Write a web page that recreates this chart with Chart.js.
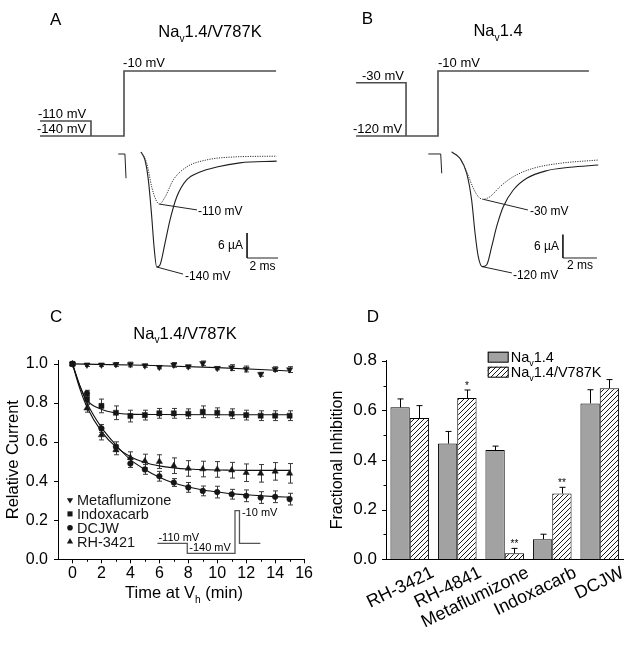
<!DOCTYPE html>
<html>
<head>
<meta charset="utf-8">
<script src="https://cdn.jsdelivr.net/npm/chart.js@4.4.1/dist/chart.umd.min.js"></script>
<style>
  html, body { margin: 0; padding: 0; background: #fff; }
  #wrap { position: relative; width: 637px; height: 645px; overflow: hidden; }
  canvas { position: absolute; }
</style>
</head>
<body>
<div id="wrap">
  <canvas id="cA" width="318" height="290" style="left:0;top:0;width:318px;height:290px"></canvas>
  <canvas id="cB" width="319" height="290" style="left:318px;top:0;width:319px;height:290px"></canvas>
  <canvas id="cC" width="318" height="355" style="left:0;top:290px;width:318px;height:355px"></canvas>
  <canvas id="cD" width="319" height="355" style="left:318px;top:290px;width:319px;height:355px"></canvas>
</div>
<script>
// ---------- data, panel A (Nav1.4/V787K traces) : t in ms, I in µA, V in mV ----------
const protoA_preT = [-5.42, -2.13, -2.13];
const protoA_preV = [-110, -110, -140];
const protoA_mainT = [-5.42, 0, 0, 9.81];
const protoA_mainV = [-140, -140, -10, -10];
const curA140_t = [1.10, 1.35, 1.57, 1.79, 1.94, 2.11, 2.32, 2.65, 2.97, 3.40, 4.04, 4.90, 5.98, 7.48, 9.85];
const curA140_i = [0, -1.9, -6.7, -15.6, -22.8, -27.6, -27.1, -21.8, -16.3, -10.8, -6.7, -4.8, -3.6, -2.6, -2.2];
const curA110_t = [1.10, 1.46, 1.79, 2.06, 2.28, 2.65, 3.18, 4.04, 5.33, 7.03, 9.85];
const curA110_i = [0, -2.6, -8.4, -11.5, -12.5, -10.8, -6.7, -3.6, -1.9, -1.2, -1.0];
const artA_t = [-0.37, 0.06, 0.13];
const artA_i = [-0.48, -0.48, -6.3];
const leadA110_t = [2.28, 4.71], leadA110_i = [-12.5, -13.9];
const leadA140_t = [2.11, 3.81], leadA140_i = [-27.6, -29.3];
const sbarA = { t0: 7.94, i0: -25.44, dt: 2, di: 6 };

// ---------- data, panel B (Nav1.4 traces) ----------
const protoB_preT = [-4.82, -1.88, -1.88];
const protoB_preV = [-30, -30, -120];
const protoB_mainT = [-4.82, 0, 0, 8.88];
const protoB_mainV = [-120, -120, -10, -10];
const curB120_t = [0.81, 1.29, 1.69, 1.98, 2.18, 2.37, 2.61, 2.86, 3.16, 3.45, 3.84, 4.43, 5.22, 6.39, 7.76, 9.43];
const curB120_i = [0, -1.62, -5.48, -12.34, -20.83, -26.92, -29.49, -29.06, -24.35, -19.21, -14.07, -9.77, -6.76, -4.81, -3.93, -3.34];
const curB30_t = [0.81, 1.29, 1.69, 2.08, 2.37, 2.66, 3.06, 3.65, 4.43, 5.61, 7.18, 9.43];
const curB30_i = [0, -1.62, -5.07, -9.33, -11.49, -12.16, -11.49, -8.92, -6.35, -4.19, -2.91, -2.06];
const artB_t = [-0.57, 0.16, 0.22];
const artB_i = [-0.51, -0.51, -5.48];
const leadB30_t = [2.66, 5.29], leadB30_i = [-12.16, -14.91];
const leadB120_t = [2.61, 4.35], leadB120_i = [-29.49, -31.11];
const sbarB = { t0: 7.35, i0: -27.26, dt: 2, di: 6 };

// ---------- data, panel C (relative current vs time at Vh, min) ----------
const timeMin = [0, 1, 2, 3, 4, 5, 6, 7, 8, 9, 10, 11, 12, 13, 14, 15];
const metaY = [1.0, 0.995, 0.995, 0.997, 0.997, 0.991, 0.983, 0.995, 0.986, 1.003, 0.978, 0.981, 0.974, 0.947, 0.973, 0.971];
const metaErr = [0, 0.008, 0.008, 0.01, 0.012, 0.008, 0.008, 0.012, 0.008, 0.012, 0.008, 0.015, 0.015, 0.01, 0.012, 0.015];
const indoxY = [1.0, 0.819, 0.785, 0.75, 0.733, 0.738, 0.747, 0.747, 0.745, 0.755, 0.75, 0.745, 0.738, 0.735, 0.735, 0.735];
const indoxErr = [0, 0.02, 0.035, 0.035, 0.03, 0.025, 0.025, 0.025, 0.025, 0.03, 0.025, 0.025, 0.025, 0.025, 0.025, 0.025];
const dcjwY = [1.0, 0.85, 0.67, 0.576, 0.49, 0.46, 0.425, 0.393, 0.368, 0.35, 0.344, 0.333, 0.325, 0.316, 0.32, 0.308];
const dcjwErr = [0, 0.015, 0.02, 0.025, 0.02, 0.025, 0.025, 0.02, 0.025, 0.025, 0.03, 0.025, 0.03, 0.03, 0.03, 0.03];
const rhY = [1.0, 0.773, 0.636, 0.56, 0.52, 0.503, 0.5, 0.479, 0.465, 0.462, 0.46, 0.456, 0.443, 0.44, 0.45, 0.44];
const rhErr = [0, 0.02, 0.025, 0.025, 0.03, 0.035, 0.035, 0.04, 0.04, 0.04, 0.04, 0.04, 0.045, 0.045, 0.045, 0.05];
// fitted curves
const metaFitT = [0, 5, 10, 15];
const metaFitY = [1.0, 0.993, 0.981, 0.964];
const indoxFitT = [0, 0.5, 1, 2, 3, 4, 6, 10, 15];
const indoxFitY = [1.0, 0.89, 0.815, 0.768, 0.749, 0.743, 0.741, 0.74, 0.74];
const curveFitT = [0, 0.5, 1, 2, 3, 4, 5, 6, 7, 8, 9, 10, 11, 12, 13, 14, 15];
const dcjwFitY = [1.0, 0.89, 0.80, 0.675, 0.585, 0.51, 0.46, 0.42, 0.39, 0.37, 0.355, 0.345, 0.336, 0.33, 0.325, 0.321, 0.318];
const rhFitY = [1.0, 0.875, 0.78, 0.655, 0.575, 0.525, 0.495, 0.478, 0.468, 0.462, 0.459, 0.457, 0.456, 0.455, 0.455, 0.455, 0.455];
// inset protocol (schematic time units, mV)
const insetT = [0, 6, 6, 15.6, 15.6, 16.5, 16.5, 20.7];
const insetV = [-110, -110, -140, -140, -10, -10, -110, -110];

// ---------- data, panel D (fractional inhibition) ----------
const drugs = ['RH-3421', 'RH-4841', 'Metaflumizone', 'Indoxacarb', 'DCJW'];
const inhibWT = [0.612, 0.466, 0.44, 0.081, 0.628];
const errWT = [0.034, 0.049, 0.016, 0.02, 0.055];
const inhibMut = [0.569, 0.65, 0.024, 0.265, 0.689];
const errMut = [0.05, 0.032, 0.02, 0.025, 0.035];
const sigMut = ['', '*', '**', '**', ''];

// ---------- helpers ----------
const FONT = "'Liberation Sans', Arial, Helvetica, sans-serif";
Chart.defaults.font.family = FONT;
Chart.defaults.color = '#000';
const NAV = [['Na', 0], ['v', 1], ['1.4', 0]];
const NAVK = [['Na', 0], ['v', 1], ['1.4/V787K', 0]];

function pts(xs, ys) { return xs.map((x, k) => ({ x: x, y: ys[k] })); }

function barPts(b) {
  return [{ x: b.t0, y: b.i0 + b.di }, { x: b.t0, y: b.i0 }, { x: b.t0 + b.dt, y: b.i0 }];
}

function richText(ctx, parts, x, y, size, align, baseline) {
  let w = 0;
  parts.forEach(p => { ctx.font = (p[1] ? size * 0.62 : size) + 'px ' + FONT; w += ctx.measureText(p[0]).width; });
  let cx = align === 'center' ? x - w / 2 : (align === 'right' ? x - w : x);
  ctx.textAlign = 'left';
  ctx.textBaseline = baseline || 'alphabetic';
  parts.forEach(p => {
    const s = p[1] ? size * 0.62 : size;
    ctx.font = s + 'px ' + FONT;
    ctx.fillText(p[0], cx, y + (p[1] ? size * 0.28 : 0));
    cx += ctx.measureText(p[0]).width;
  });
}

// text notes, placed in pixels (px/py) or in data units of the given axes
function makeNotes(items) {
  return {
    id: 'notes',
    afterDraw(chart) {
      const ctx = chart.ctx;
      ctx.save();
      ctx.fillStyle = '#000';
      items.forEach(n => {
        let x = n.px, y = n.py;
        if (x === undefined) x = chart.scales[n.xAxis || 'x'].getPixelForValue(n.x);
        if (y === undefined) y = chart.scales[n.yAxis || 'y'].getPixelForValue(n.y);
        richText(ctx, n.parts || [[n.text, 0]], x + (n.dx || 0), y + (n.dy || 0), n.size, n.align, n.baseline);
      });
      ctx.restore();
    }
  };
}

// outward major/minor tick marks (minor = tick with empty label)
function makeTicks(ids) {
  return {
    id: 'tickMarks',
    afterDraw(chart) {
      const ctx = chart.ctx, area = chart.chartArea;
      ctx.save();
      ctx.strokeStyle = '#000';
      ctx.lineWidth = 1;
      ids.forEach(id => {
        const s = chart.scales[id];
        s.ticks.forEach(t => {
          const len = t.label === '' ? 2.5 : 4;
          const p = Math.round(s.getPixelForValue(t.value)) + 0.5;
          ctx.beginPath();
          if (s.isHorizontal()) {
            if (p < area.left + 1) return;
            ctx.moveTo(p, area.bottom); ctx.lineTo(p, area.bottom + len);
          } else {
            ctx.moveTo(area.left - len, p); ctx.lineTo(area.left, p);
          }
          ctx.stroke();
        });
      });
      ctx.restore();
    }
  };
}

function drawMarker(ctx, style, x, y, r) {
  ctx.beginPath();
  if (style === 'circle') {
    ctx.arc(x, y, r, 0, Math.PI * 2);
  } else if (style === 'rect') {
    const s = r * Math.SQRT1_2;
    ctx.rect(x - s, y - s, 2 * s, 2 * s);
  } else {
    const d = style === 'down' ? -1 : 1;
    ctx.moveTo(x, y - d * r);
    ctx.lineTo(x + r * 0.866, y + d * r * 0.5);
    ctx.lineTo(x - r * 0.866, y + d * r * 0.5);
    ctx.closePath();
  }
  ctx.fill();
}

function traceSet(data, yAxis, opts) {
  return Object.assign({
    data: data, yAxisID: yAxis, showLine: true, pointRadius: 0,
    borderColor: '#1e1e1e', borderWidth: 1.1, fill: false
  }, opts || {});
}

function traceChart(id, sc, sets, notes) {
  return new Chart(document.getElementById(id), {
    type: 'scatter',
    data: { datasets: sets },
    options: {
      responsive: false,
      animation: false,
      layout: { padding: 0 },
      plugins: { legend: { display: false }, tooltip: { enabled: false } },
      scales: {
        x: { type: 'linear', display: false, min: sc.t[0], max: sc.t[1] },
        y: { type: 'linear', display: false },
        yV: { type: 'linear', display: false, min: sc.v[0], max: sc.v[1] },
        yI: { type: 'linear', display: false, min: sc.i[0], max: sc.i[1] }
      }
    },
    plugins: [makeNotes(notes)]
  });
}

const protoStyle = { borderColor: '#4d4d4d', borderWidth: 1.6 };
const dotStyle = { borderColor: '#333', borderWidth: 1, borderDash: [1.2, 1.2] };
const thinStyle = { borderColor: '#222', borderWidth: 1 };
const axisGrid = { display: false, drawTicks: false };
const axisBorder = { display: true, color: '#000', width: 1 };

// ---------- panel A ----------
traceChart('cA', { t: [-8, 12.516], v: [-448, 132], i: [-33.12, 36.48] }, [
  traceSet(pts(protoA_preT, protoA_preV), 'yV', protoStyle),
  traceSet(pts(protoA_mainT, protoA_mainV), 'yV', protoStyle),
  traceSet(pts(artA_t, artA_i), 'yI', thinStyle),
  traceSet(pts(curA110_t, curA110_i), 'yI', Object.assign({ cubicInterpolationMode: 'monotone' }, dotStyle)),
  traceSet(pts(curA140_t, curA140_i), 'yI', { cubicInterpolationMode: 'monotone' }),
  traceSet(pts(leadA110_t, leadA110_i), 'yI', thinStyle),
  traceSet(pts(leadA140_t, leadA140_i), 'yI', thinStyle),
  traceSet(barPts(sbarA), 'yI', thinStyle)
], [
  { parts: [['A', 0]], px: 50, py: 25, size: 17 },
  { parts: NAVK, px: 210, py: 37, size: 16.5, align: 'center' },
  { text: '-10 mV', x: -0.06, y: -10, yAxis: 'yV', dy: -4, size: 13 },
  { text: '-110 mV', x: -5.55, y: -110, yAxis: 'yV', dy: -3, size: 13 },
  { text: '-140 mV', x: -5.61, y: -140, yAxis: 'yV', dy: -3, size: 13 },
  { text: '-110 mV', x: 4.77, y: -14.4, yAxis: 'yI', size: 12, baseline: 'middle' },
  { text: '-140 mV', x: 3.94, y: -30.0, yAxis: 'yI', size: 12, baseline: 'middle' },
  { text: '6 \u00b5A', x: sbarA.t0 - 0.26, y: sbarA.i0 + sbarA.di / 2, yAxis: 'yI', size: 12, align: 'right', baseline: 'middle' },
  { text: '2 ms', x: sbarA.t0 + sbarA.dt / 2, y: sbarA.i0 - 2.0, yAxis: 'yI', size: 12, align: 'center', baseline: 'middle' }
]);

// ---------- panel B ----------
traceChart('cB', { t: [-7.06, 11.71], v: [-380.6, 110.15], i: [-35.49, 39.09] }, [
  traceSet(pts(protoB_preT, protoB_preV), 'yV', protoStyle),
  traceSet(pts(protoB_mainT, protoB_mainV), 'yV', protoStyle),
  traceSet(pts(artB_t, artB_i), 'yI', thinStyle),
  traceSet(pts(curB30_t, curB30_i), 'yI', Object.assign({ cubicInterpolationMode: 'monotone' }, dotStyle)),
  traceSet(pts(curB120_t, curB120_i), 'yI', { cubicInterpolationMode: 'monotone' }),
  traceSet(pts(leadB30_t, leadB30_i), 'yI', thinStyle),
  traceSet(pts(leadB120_t, leadB120_i), 'yI', thinStyle),
  traceSet(barPts(sbarB), 'yI', thinStyle)
], [
  { parts: [['B', 0]], px: 43.7, py: 24, size: 17 },
  { parts: NAV, px: 180, py: 36, size: 16.5, align: 'center' },
  { text: '-10 mV', x: 0, y: -10, yAxis: 'yV', dy: -4, size: 13 },
  { text: '-30 mV', x: -4.47, y: -30, yAxis: 'yV', dy: -3, size: 13 },
  { text: '-120 mV', x: -5.0, y: -120, yAxis: 'yV', dy: -3, size: 13 },
  { text: '-30 mV', x: 5.41, y: -15.43, yAxis: 'yI', size: 12, baseline: 'middle' },
  { text: '-120 mV', x: 4.41, y: -31.9, yAxis: 'yI', size: 12, baseline: 'middle' },
  { text: '6 \u00b5A', x: sbarB.t0 - 0.23, y: sbarB.i0 + sbarB.di / 2, yAxis: 'yI', size: 12, align: 'right', baseline: 'middle' },
  { text: '2 ms', x: sbarB.t0 + sbarB.dt / 2, y: sbarB.i0 - 2.1, yAxis: 'yI', size: 12, align: 'center', baseline: 'middle' }
]);

// ---------- panel C ----------
const markerInk = '#161616';
const seriesC = [
  { label: 'Metaflumizone', y: metaY, err: metaErr, style: 'triangle', rot: 180, r: 3.6, key: 'down' },
  { label: 'Indoxacarb', y: indoxY, err: indoxErr, style: 'rect', rot: 0, r: 3.6, key: 'rect' },
  { label: 'DCJW', y: dcjwY, err: dcjwErr, style: 'circle', rot: 0, r: 2.8, key: 'circle' },
  { label: 'RH-3421', y: rhY, err: rhErr, style: 'triangle', rot: 0, r: 3.6, key: 'up' }
];
const fitsC = [pts(metaFitT, metaFitY), pts(indoxFitT, indoxFitY), pts(curveFitT, dcjwFitY), pts(curveFitT, rhFitY)];

const setsC = seriesC.map(s => ({
  label: s.label, data: pts(timeMin, s.y), errs: s.err, order: 0,
  pointStyle: s.style, rotation: s.rot, pointRadius: s.r,
  pointBackgroundColor: markerInk, pointBorderColor: markerInk, pointBorderWidth: 0.5
})).concat(fitsC.map(f => ({
  data: f, showLine: true, pointRadius: 0, order: 1, borderColor: '#111', borderWidth: 1.1,
  cubicInterpolationMode: 'monotone'
}))).concat([{
  data: pts(insetT, insetV), xAxisID: 'xP', yAxisID: 'yP', showLine: true, pointRadius: 0, order: 2,
  borderColor: '#555', borderWidth: 1.3
}]);

const errBarsC = {
  id: 'errBarsC',
  beforeDatasetsDraw(chart) {
    const ctx = chart.ctx, xs = chart.scales.x, ys = chart.scales.y;
    ctx.save();
    ctx.strokeStyle = '#3a3a3a';
    ctx.lineWidth = 1;
    chart.data.datasets.forEach(ds => {
      if (!ds.errs) return;
      ds.data.forEach((p, k) => {
        const e = ds.errs[k];
        if (!e) return;
        const x = Math.round(xs.getPixelForValue(p.x)) + 0.5;
        const y1 = ys.getPixelForValue(p.y + e), y2 = ys.getPixelForValue(p.y - e);
        ctx.beginPath();
        ctx.moveTo(x, y1); ctx.lineTo(x, y2);
        ctx.moveTo(x - 2.5, y1); ctx.lineTo(x + 2.5, y1);
        ctx.moveTo(x - 2.5, y2); ctx.lineTo(x + 2.5, y2);
        ctx.stroke();
      });
    });
    ctx.restore();
  }
};

const legendC = {
  id: 'legendC',
  afterDraw(chart) {
    const ctx = chart.ctx;
    ctx.save();
    ctx.fillStyle = markerInk;
    seriesC.forEach((s, k) => {
      const base = 215 + 13.9 * k;
      drawMarker(ctx, s.key, 70, base - 5, s.r);
      richText(ctx, [[s.label, 0]], 77, base, 14.5, 'left');
    });
    ctx.restore();
  }
};

new Chart(document.getElementById('cC'), {
  type: 'scatter',
  data: { datasets: setsC },
  options: {
    responsive: false,
    animation: false,
    layout: { padding: { top: 70, right: 12.5, left: 0, bottom: 0 } },
    plugins: { legend: { display: false }, tooltip: { enabled: false } },
    scales: {
      x: {
        type: 'linear', min: -1, max: 16,
        grid: axisGrid, border: axisBorder,
        ticks: { stepSize: 1, autoSkip: false, maxRotation: 0, padding: 5, font: { size: 16 },
          callback: v => (Math.round(v) % 2 === 0 ? String(Math.round(v)) : '') },
        afterFit: s => { s.height = 85.7; }
      },
      y: {
        type: 'linear', min: 0, max: 1.02,
        grid: axisGrid, border: axisBorder,
        ticks: { stepSize: 0.1, includeBounds: false, padding: 10, font: { size: 16 },
          callback: v => (Math.round(v * 10) % 2 === 0 ? v.toFixed(1) : '') },
        title: { display: true, text: 'Relative Current', font: { size: 16.5 }, padding: { top: 4, bottom: 0 } },
        afterFit: s => { s.width = 58; }
      },
      xP: { type: 'linear', display: false, min: -20, max: 29.5 },
      yP: { type: 'linear', display: false, min: -158.3, max: 449.9 }
    }
  },
  plugins: [errBarsC, legendC, makeTicks(['x', 'y']), makeNotes([
    { parts: [['C', 0]], px: 50, py: 31.7, size: 17 },
    { parts: NAVK, px: 185, py: 48.5, size: 16.5, align: 'center' },
    { parts: [['Time at V', 0], ['h', 1], [' (min)', 0]], px: 184, py: 308.3, size: 16.5, align: 'center' },
    { text: '-110 mV', x: 0.2, y: -110, xAxis: 'xP', yAxis: 'yP', dy: -2, size: 11 },
    { text: '-140 mV', x: 6.4, y: -140, xAxis: 'xP', yAxis: 'yP', dy: -2, size: 11 },
    { text: '-10 mV', x: 17.0, y: -10, xAxis: 'xP', yAxis: 'yP', dy: 5, size: 11 }
  ])]
});

// ---------- panel D ----------
const ctxD = document.getElementById('cD').getContext('2d');
const tile = document.createElement('canvas');
tile.width = 5; tile.height = 5;
(function () {
  const g = tile.getContext('2d');
  g.fillStyle = '#fff'; g.fillRect(0, 0, 5, 5);
  g.strokeStyle = '#000'; g.lineWidth = 0.9;
  g.beginPath();
  g.moveTo(0, 5); g.lineTo(5, 0);
  g.moveTo(-1, 1); g.lineTo(1, -1);
  g.moveTo(4, 6); g.lineTo(6, 4);
  g.stroke();
})();
const hatch = ctxD.createPattern(tile, 'repeat');
const grayFill = '#a2a2a2';

const barExtras = {
  id: 'barExtras',
  afterDatasetsDraw(chart) {
    const ctx = chart.ctx, ys = chart.scales.y;
    ctx.save();
    ctx.strokeStyle = '#000';
    ctx.fillStyle = '#000';
    ctx.lineWidth = 1;
    chart.data.datasets.forEach((ds, i) => {
      const meta = chart.getDatasetMeta(i);
      meta.data.forEach((bar, k) => {
        const x = Math.round(bar.x) + 0.5;
        const yTop = ys.getPixelForValue(ds.data[k] + ds.errs[k]);
        ctx.beginPath();
        ctx.moveTo(x, bar.y); ctx.lineTo(x, yTop);
        ctx.moveTo(x - 3, yTop); ctx.lineTo(x + 3, yTop);
        ctx.stroke();
        if (ds.sig && ds.sig[k]) {
          richText(ctx, [[ds.sig[k], 0]], bar.x, yTop - 1, 10, 'center');
        }
      });
    });
    // legend
    chart.data.datasets.forEach((ds, i) => {
      const top = i === 0 ? 61.7 : 76.7;
      ctx.fillStyle = ds.backgroundColor;
      ctx.fillRect(169.7, top, 20.6, 10.4);
      ctx.strokeRect(169.7 + 0.5, top + 0.5, 20, 10);
      ctx.fillStyle = '#000';
      richText(ctx, ds.legendParts, 192.7, top + 10.2, 14.5, 'left');
    });
    ctx.restore();
  }
};

new Chart(ctxD, {
  type: 'bar',
  data: {
    labels: drugs,
    datasets: [
      { label: 'Nav1.4', legendParts: NAV, data: inhibWT, errs: errWT, backgroundColor: grayFill,
        borderColor: '#000', borderWidth: 1, barPercentage: 1, categoryPercentage: 0.813 },
      { label: 'Nav1.4/V787K', legendParts: NAVK, data: inhibMut, errs: errMut, sig: sigMut, backgroundColor: hatch,
        borderColor: '#000', borderWidth: 1, barPercentage: 1, categoryPercentage: 0.813 }
    ]
  },
  options: {
    responsive: false,
    animation: false,
    layout: { padding: { top: 70.7, right: 13.5, left: 0, bottom: 0 } },
    plugins: { legend: { display: false }, tooltip: { enabled: false } },
    scales: {
      x: {
        grid: axisGrid, border: axisBorder,
        ticks: { autoSkip: false, minRotation: 26, maxRotation: 26, padding: 3, labelOffset: 23, font: { size: 18 } },
        afterFit: s => { s.height = 85.7; }
      },
      y: {
        min: 0, max: 0.8,
        grid: axisGrid, border: axisBorder,
        ticks: { stepSize: 0.1, includeBounds: false, padding: 9, font: { size: 17 },
          callback: v => (Math.round(v * 10) % 2 === 0 ? v.toFixed(1) : '') },
        title: { display: true, text: 'Fractional Inhibition', font: { size: 16 }, padding: { top: 10, bottom: 0 } },
        afterFit: s => { s.width = 68; }
      }
    }
  },
  plugins: [barExtras, makeTicks(['y']), makeNotes([
    { parts: [['D', 0]], px: 48.7, py: 31.7, size: 17 }
  ])]
});
</script>
</body>
</html>
